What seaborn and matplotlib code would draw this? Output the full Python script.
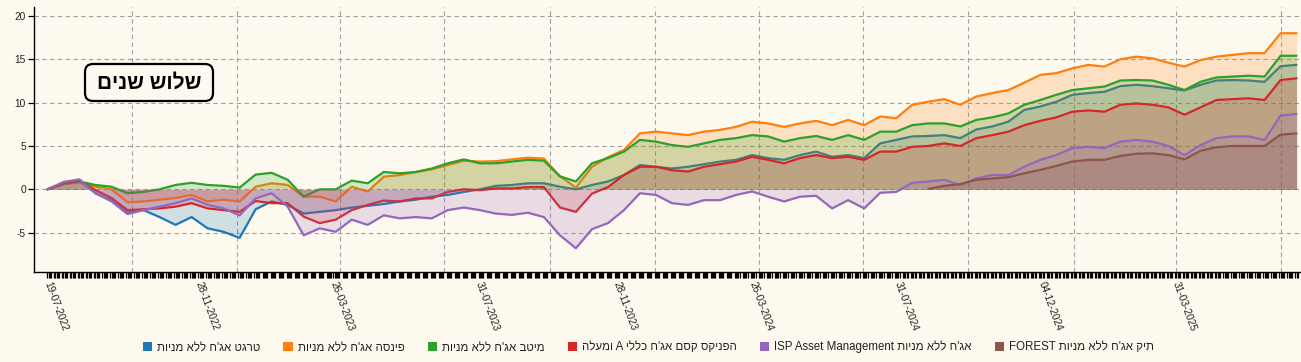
import re
import numpy as np
import pandas as pd
import matplotlib
matplotlib.use("Agg")
import matplotlib.pyplot as plt
import matplotlib.dates as mdates
from matplotlib.patches import Patch, FancyBboxPatch
from matplotlib.transforms import IdentityTransform
import seaborn as sns

# ---------------- data ----------------
dates = pd.date_range("2022-07-19", periods=79, freq="14D")

series_names = [
    "טרגט אג'ח ללא מניות",
    "פינסה אג'ח ללא מניות",
    "מיטב אג'ח ללא מניות",
    "הפניקס קסם אג'ח כללי A ומעלה",
    "אג'ח ללא מניות ISP Asset Management",
    "תיק אג'ח ללא מניות FOREST",
]

target = [0, 0.7, 1.0, -0.45, -1.3, -2.7, -2.4, -3.2, -4.1, -3.2, -4.5, -4.9, -5.6,
          -2.3, -1.4, -1.8, -2.8, -2.6, -2.4, -2.1, -1.9, -1.7, -1.4, -1.2, -0.85, -0.65,
          -0.3, 0.0, 0.4, 0.5, 0.7, 0.7, 0.3, 0.0, 0.5, 0.9, 1.65, 2.8, 2.6, 2.4,
          2.6, 2.9, 3.2, 3.4, 3.95, 3.6, 3.4, 3.95, 4.35, 3.75, 3.95, 3.6, 5.3, 5.7,
          6.1, 6.15, 6.25, 5.9, 6.9, 7.25, 7.8, 9.15, 9.55, 10.1, 10.9, 11.1, 11.25,
          11.9, 12.05, 11.9, 11.65, 11.4, 12.05, 12.55, 12.6, 12.55, 12.4, 14.2, 14.35]
finsa = [0, 0.6, 0.8, 0.3, 0.0, -1.5, -1.4, -1.2, -1.0, -0.65, -1.4, -1.2, -1.4,
         0.3, 0.7, 0.5, -0.85, -0.85, -1.4, 0.3, -0.25, 1.45, 1.65, 2.0, 2.3, 2.8,
         3.3, 3.2, 3.25, 3.45, 3.65, 3.55, 1.5, 0.2, 2.6, 3.7, 4.55, 6.45, 6.65, 6.45,
         6.25, 6.65, 6.85, 7.2, 7.8, 7.6, 7.2, 7.6, 7.9, 7.4, 8.0, 7.4, 8.4, 8.2,
         9.75, 10.1, 10.4, 9.75, 10.7, 11.1, 11.45, 12.3, 13.2, 13.4, 13.95, 14.35, 14.15,
         15.0, 15.3, 15.1, 14.6, 14.15, 14.9, 15.3, 15.5, 15.7, 15.7, 18.0, 18.0]
meitav = [0, 0.6, 0.9, 0.5, 0.3, -0.45, -0.3, 0.0, 0.5, 0.75, 0.5, 0.4, 0.2,
          1.7, 1.9, 1.1, -0.85, 0.0, 0.0, 1.0, 0.7, 2.0, 1.85, 2.0, 2.4, 3.0,
          3.45, 3.0, 3.0, 3.2, 3.4, 3.3, 1.5, 0.9, 3.0, 3.6, 4.35, 5.7, 5.5, 5.1,
          4.9, 5.3, 5.7, 5.9, 6.25, 6.1, 5.5, 5.9, 6.15, 5.7, 6.25, 5.7, 6.65, 6.65,
          7.4, 7.6, 7.6, 7.25, 8.0, 8.3, 8.75, 9.75, 10.3, 10.9, 11.45, 11.65, 11.85,
          12.55, 12.6, 12.55, 12.05, 11.45, 12.4, 12.9, 13.0, 13.1, 13.0, 15.4, 15.4]
phoenix = [0, 0.7, 1.0, -0.1, -1.0, -2.4, -2.3, -2.2, -2.0, -1.6, -2.2, -2.4, -2.6,
           -1.35, -1.6, -1.6, -3.15, -3.9, -3.5, -2.4, -1.8, -1.3, -1.4, -1.05, -1.05, -0.3,
           0.0, -0.1, 0.1, 0.1, 0.25, 0.25, -2.1, -2.6, -0.5, 0.25, 1.65, 2.6, 2.6, 2.2,
           2.05, 2.6, 2.9, 3.2, 3.75, 3.4, 3.0, 3.6, 3.95, 3.6, 3.75, 3.4, 4.35, 4.35,
           4.9, 5.0, 5.3, 5.0, 5.9, 6.25, 6.65, 7.4, 7.9, 8.3, 8.95, 9.1, 8.95,
           9.75, 9.9, 9.75, 9.45, 8.6, 9.45, 10.3, 10.4, 10.5, 10.3, 12.6, 12.8]
isp = [0, 0.85, 1.15, -0.45, -1.4, -2.85, -2.4, -2.0, -1.6, -1.05, -1.8, -2.2, -3.0,
       -1.05, -0.45, -2.0, -5.3, -4.5, -4.9, -3.5, -4.1, -3.0, -3.35, -3.2, -3.35, -2.4,
       -2.1, -2.4, -2.8, -2.95, -2.7, -3.2, -5.3, -6.8, -4.6, -3.9, -2.4, -0.45, -0.65, -1.6,
       -1.8, -1.25, -1.25, -0.65, -0.25, -0.85, -1.4, -0.85, -0.75, -2.2, -1.25, -2.2, -0.4, -0.3,
       0.75, 0.9, 1.1, 0.5, 1.25, 1.65, 1.65, 2.6, 3.4, 3.95, 4.75, 4.9, 4.75,
       5.5, 5.7, 5.5, 5.0, 3.95, 5.1, 5.9, 6.1, 6.1, 5.7, 8.5, 8.7]
forest = [np.nan] * 55 + [0.05, 0.4, 0.6, 1.1, 1.25, 1.4, 1.85, 2.25, 2.7, 3.2, 3.4, 3.4,
                          3.85, 4.1, 4.15, 3.95, 3.45, 4.45, 4.85, 5.0, 5.0, 5.0, 6.3, 6.45]

label_dates = ["2022-07-19", "2022-11-28", "2023-03-26", "2023-07-31", "2023-11-28",
               "2024-03-26", "2024-07-31", "2024-12-04", "2025-03-31"]
y_ticks = [-5, 0, 5, 10, 15, 20]
title_text = "שלוש שנים"


def visual(s):
    """Logical RTL string -> visual order for left-to-right rendering."""
    parts = re.findall(r"[A-Za-z0-9][A-Za-z0-9 .\-]*[A-Za-z0-9]|[A-Za-z0-9]|[^A-Za-z0-9]+", s)
    out = []
    for p in reversed(parts):
        out.append(p if re.match(r"[A-Za-z0-9]", p) else p[::-1])
    return "".join(out)


# ---------------- style ----------------
BG = "#fdf9ee"
sns.set_theme(style="white")
plt.rcParams["font.family"] = ["Liberation Sans", "DejaVu Sans"]
plt.rcParams["axes.unicode_minus"] = False

palette = sns.color_palette("tab10")
colors = [palette[0], palette[1], palette[2], palette[3], palette[4], palette[5]]
all_values = [target, finsa, meitav, phoenix, isp, forest]

fig = plt.figure(figsize=(13.01, 3.62), dpi=100, facecolor=BG)
ax = fig.add_axes([34.3 / 1301, (362 - 272.3) / 362, (1300 - 34.3) / 1301, (272.3 - 6.7) / 362])
ax.set_facecolor(BG)

for k, (vals, col) in enumerate(zip(all_values, colors)):
    s = pd.Series(vals, index=dates, dtype=float)
    s = s[s.notna()]
    ax.fill_between(s.index, 0, s.values, color=col, alpha=0.2, lw=0, zorder=2 + 2 * k)
    sns.lineplot(x=s.index, y=s.values, ax=ax, color=col, lw=1.6, legend=False, zorder=3 + 2 * k)

ax.set_ylim(-9.57, 21.06)
ax.set_xlim(pd.Timestamp("2022-07-07 12:00"), pd.Timestamp("2025-07-18"))

# grid
grid_kw = dict(color="#a0a0a0", lw=0.8, ls=(0, (4, 3)), zorder=1)
for yv in y_ticks:
    ax.axhline(yv, **grid_kw)
for q in pd.date_range("2022-10-01", "2025-07-01", freq="QS"):
    ax.axvline(q, **grid_kw)

# axes
for sp in ["top", "right"]:
    ax.spines[sp].set_visible(False)
for sp in ["left", "bottom"]:
    ax.spines[sp].set_color("black")
    ax.spines[sp].set_linewidth(1.0)
    ax.spines[sp].set_zorder(20)

ax.set_yticks(y_ticks)
ax.set_yticklabels([str(v) for v in y_ticks])
ax.tick_params(axis="y", which="major", left=True, length=4, width=0.9, color="black",
               labelsize=7.3, labelcolor="#222222", pad=2)

ax.set_xticks(pd.to_datetime(label_dates))
ax.set_xticklabels([pd.Timestamp(d).strftime("%d-%m-%Y") for d in label_dates])
ax.set_xticks(pd.bdate_range("2022-07-19", "2025-07-16"), minor=True)
ax.tick_params(axis="x", which="both", bottom=True, length=4.2, width=0.9, color="black")
ax.tick_params(axis="x", which="major", labelsize=7.3, labelcolor="#222222", pad=2.5)
for t in ax.get_xticklabels():
    t.set_rotation(-70)
    t.set_ha("left")
    t.set_va("center")
    t.set_rotation_mode("anchor")
ax.set_xlabel("")
ax.set_ylabel("")

# title box
box = FancyBboxPatch((85, 362 - 101), 128, 37, boxstyle="round,pad=0,rounding_size=8",
                     transform=IdentityTransform(), fc=BG, ec="black", lw=1.6, zorder=5)
fig.add_artist(box)
fig.text(149 / 1301, 1 - 83 / 362, visual(title_text), fontsize=15, fontweight="bold",
         ha="center", va="center", color="black", zorder=6)

# legend
handles = [Patch(facecolor=c, edgecolor="none", label=visual(n)) for n, c in zip(series_names, colors)]
fig.legend(handles=handles, loc="center", bbox_to_anchor=(0.4985, 0.041), ncol=6, frameon=False,
           fontsize=8.3, handlelength=0.8, handleheight=0.8, handletextpad=0.45, columnspacing=2.0,
           labelcolor="#222222")

fig.savefig("out.png", dpi=100, facecolor=BG)
